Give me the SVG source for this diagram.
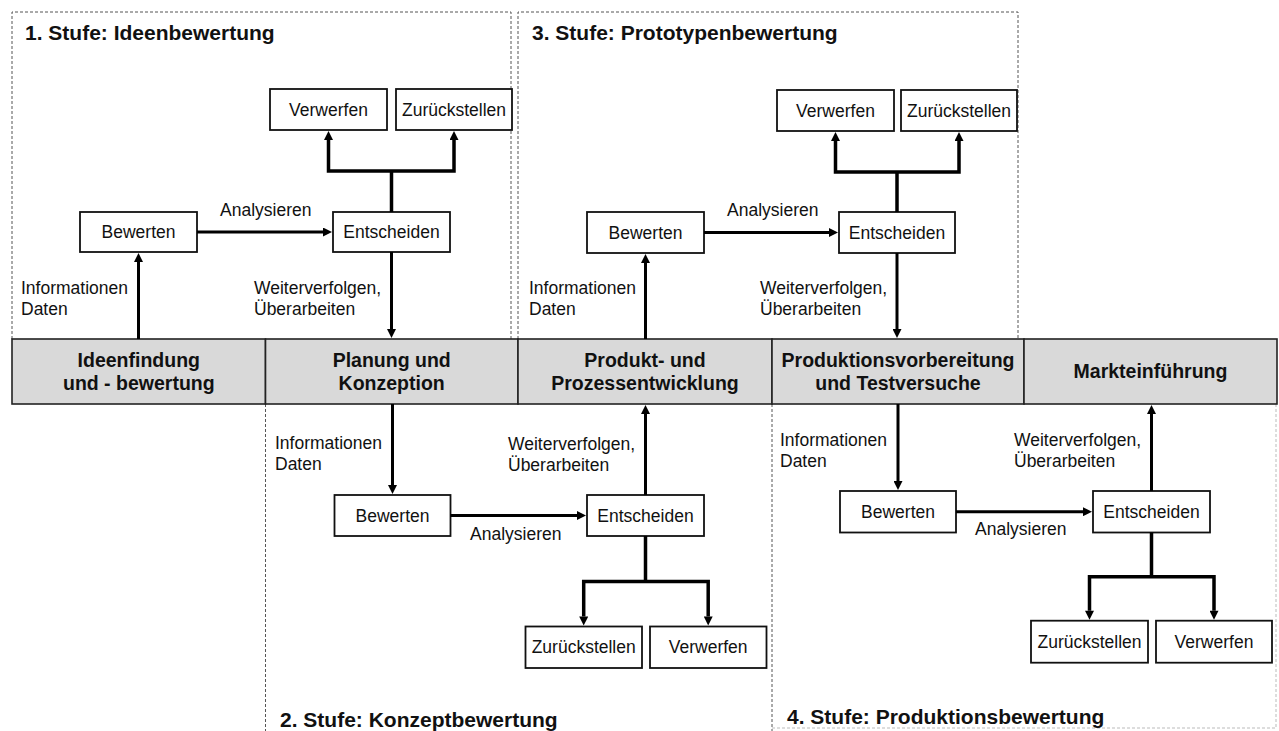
<svg xmlns="http://www.w3.org/2000/svg" width="1279" height="731" viewBox="0 0 1279 731">
  <style>
    text { font-family: "Liberation Sans", Arial, sans-serif; fill: #111; }
    .lbl { font-size: 17.5px; }
    .box-t { font-size: 17.5px; text-anchor: middle; dominant-baseline: central; }
    .title { font-size: 21px; font-weight: bold; }
    .phase { font-size: 19.5px; font-weight: bold; text-anchor: middle; }
    .box { fill: #fff; stroke: #111; stroke-width: 1.8; }
    .stage { fill: none; stroke: #555; stroke-width: 1; stroke-dasharray: 3 2; }
    .stage-faint { fill: none; stroke: #bbb; stroke-width: 1; stroke-dasharray: 3 2; }
    .cell { fill: #d9d9d9; stroke: #222; stroke-width: 1.6; }
    .flow { fill: none; stroke: #000; stroke-width: 3; }
    .fork { fill: none; stroke: #000; stroke-width: 3.5; stroke-linejoin: miter; }
  </style>
  <defs>
    <marker id="ah" viewBox="0 0 10 10" refX="0" refY="5" markerWidth="10" markerHeight="9" markerUnits="userSpaceOnUse" orient="auto-start-reverse">
      <path d="M0,0 L10,5 L0,10 z" fill="#000"/>
    </marker>
  </defs>

  <!-- stage frames -->
  <g id="stages">
    <path class="stage" d="M12,339 V12 H511 V339"/>
    <path class="stage" d="M518,339 V12 H1018 V339"/>
    <path class="stage" d="M265.5,404 V731"/>
    <path class="stage" d="M772,404 V731"/>
    <path class="stage-faint" d="M1276,404 V728 H772"/>
  </g>

  <!-- stage titles -->
  <g id="titles">
    <text class="title" x="25" y="40">1. Stufe: Ideenbewertung</text>
    <text class="title" x="532" y="40">3. Stufe: Prototypenbewertung</text>
    <text class="title" x="280" y="727">2. Stufe: Konzeptbewertung</text>
    <text class="title" x="787" y="724">4. Stufe: Produktionsbewertung</text>
  </g>

  <!-- process bar -->
  <g id="phase-ideen">
    <rect class="cell" x="12" y="339" width="253.5" height="65"/>
    <text class="phase" x="138.8" y="367">Ideenfindung</text>
    <text class="phase" x="138.8" y="390">und - bewertung</text>
  </g>
  <g id="phase-planung">
    <rect class="cell" x="265.5" y="339" width="252.5" height="65"/>
    <text class="phase" x="391.7" y="367">Planung und</text>
    <text class="phase" x="391.7" y="390">Konzeption</text>
  </g>
  <g id="phase-entwicklung">
    <rect class="cell" x="518" y="339" width="254" height="65"/>
    <text class="phase" x="645" y="367">Produkt- und</text>
    <text class="phase" x="645" y="390">Prozessentwicklung</text>
  </g>
  <g id="phase-produktion">
    <rect class="cell" x="772" y="339" width="252" height="65"/>
    <text class="phase" x="898" y="367">Produktionsvorbereitung</text>
    <text class="phase" x="898" y="390">und Testversuche</text>
  </g>
  <g id="phase-markt">
    <rect class="cell" x="1024" y="339" width="253" height="65"/>
    <text class="phase" x="1150.5" y="378">Markteinführung</text>
  </g>

  <!-- stage 1 nodes -->
  <g id="s1-verwerfen"><rect class="box" x="270" y="89" width="117" height="41"/><text class="box-t" x="328.5" y="109.5">Verwerfen</text></g>
  <g id="s1-zurueck"><rect class="box" x="396" y="89" width="116" height="41"/><text class="box-t" x="454" y="109.5">Zurückstellen</text></g>
  <g id="s1-bewerten"><rect class="box" x="80" y="212" width="117" height="40"/><text class="box-t" x="138.5" y="232">Bewerten</text></g>
  <g id="s1-entscheiden"><rect class="box" x="333" y="212" width="117" height="40"/><text class="box-t" x="391.5" y="232">Entscheiden</text></g>

  <!-- stage 3 nodes -->
  <g id="s3-verwerfen"><rect class="box" x="777" y="90" width="117" height="41"/><text class="box-t" x="835.5" y="110.5">Verwerfen</text></g>
  <g id="s3-zurueck"><rect class="box" x="901" y="90" width="116" height="41"/><text class="box-t" x="959" y="110.5">Zurückstellen</text></g>
  <g id="s3-bewerten"><rect class="box" x="587" y="212" width="117" height="41"/><text class="box-t" x="645.5" y="232.5">Bewerten</text></g>
  <g id="s3-entscheiden"><rect class="box" x="839" y="212" width="116" height="41"/><text class="box-t" x="897" y="232.5">Entscheiden</text></g>

  <!-- stage 2 nodes -->
  <g id="s2-bewerten"><rect class="box" x="334.5" y="495" width="116" height="41"/><text class="box-t" x="392.5" y="515.5">Bewerten</text></g>
  <g id="s2-entscheiden"><rect class="box" x="587" y="495" width="117" height="41"/><text class="box-t" x="645.5" y="515.5">Entscheiden</text></g>
  <g id="s2-zurueck"><rect class="box" x="525.5" y="626.5" width="116.5" height="41.5"/><text class="box-t" x="583.7" y="647.2">Zurückstellen</text></g>
  <g id="s2-verwerfen"><rect class="box" x="650" y="626.5" width="116.5" height="41.5"/><text class="box-t" x="708.2" y="647.2">Verwerfen</text></g>

  <!-- stage 4 nodes -->
  <g id="s4-bewerten"><rect class="box" x="840" y="491" width="116" height="41.5"/><text class="box-t" x="898" y="511.7">Bewerten</text></g>
  <g id="s4-entscheiden"><rect class="box" x="1093" y="491" width="117" height="41.5"/><text class="box-t" x="1151.5" y="511.7">Entscheiden</text></g>
  <g id="s4-zurueck"><rect class="box" x="1031" y="620.7" width="117" height="42"/><text class="box-t" x="1089.5" y="641.7">Zurückstellen</text></g>
  <g id="s4-verwerfen"><rect class="box" x="1156" y="620.7" width="116" height="42"/><text class="box-t" x="1214" y="641.7">Verwerfen</text></g>

  <!-- connectors -->
  <g id="connectors">
    <!-- stage 1 -->
    <path class="flow" d="M138.5,339 V262" marker-end="url(#ah)"/>
    <path class="flow" d="M197,232 H323" marker-end="url(#ah)"/>
    <path class="flow" d="M391.5,252 V329" marker-end="url(#ah)"/>
    <path class="fork" d="M391.5,212 V171"/>
    <path class="fork" d="M328.5,140 V171 H454 V140" marker-start="url(#ah)" marker-end="url(#ah)"/>
    <!-- stage 3 -->
    <path class="flow" d="M645.5,339 V263" marker-end="url(#ah)"/>
    <path class="flow" d="M704,232.5 H829" marker-end="url(#ah)"/>
    <path class="flow" d="M897,253 V329" marker-end="url(#ah)"/>
    <path class="fork" d="M897,212 V172"/>
    <path class="fork" d="M835.5,141 V172 H959 V141" marker-start="url(#ah)" marker-end="url(#ah)"/>
    <!-- stage 2 -->
    <path class="flow" d="M392.5,404 V485" marker-end="url(#ah)"/>
    <path class="flow" d="M450.5,515.5 H577" marker-end="url(#ah)"/>
    <path class="flow" d="M645.5,495 V414" marker-end="url(#ah)"/>
    <path class="fork" d="M645.5,536 V581.5"/>
    <path class="fork" d="M583.7,616.5 V581.5 H708.2 V616.5" marker-start="url(#ah)" marker-end="url(#ah)"/>
    <!-- stage 4 -->
    <path class="flow" d="M898,404 V481" marker-end="url(#ah)"/>
    <path class="flow" d="M956,511.7 H1083" marker-end="url(#ah)"/>
    <path class="flow" d="M1151.5,491 V414" marker-end="url(#ah)"/>
    <path class="fork" d="M1151.5,532.5 V576.7"/>
    <path class="fork" d="M1089.5,610.7 V576.7 H1214 V610.7" marker-start="url(#ah)" marker-end="url(#ah)"/>
  </g>

  <!-- connector labels -->
  <g id="labels">
    <text class="lbl" x="220" y="216">Analysieren</text>
    <text class="lbl" x="21" y="294">Informationen</text>
    <text class="lbl" x="21" y="315">Daten</text>
    <text class="lbl" x="254" y="294">Weiterverfolgen,</text>
    <text class="lbl" x="254" y="315">Überarbeiten</text>

    <text class="lbl" x="727" y="216">Analysieren</text>
    <text class="lbl" x="529" y="294">Informationen</text>
    <text class="lbl" x="529" y="315">Daten</text>
    <text class="lbl" x="760" y="294">Weiterverfolgen,</text>
    <text class="lbl" x="760" y="315">Überarbeiten</text>

    <text class="lbl" x="470" y="540">Analysieren</text>
    <text class="lbl" x="275" y="449">Informationen</text>
    <text class="lbl" x="275" y="470">Daten</text>
    <text class="lbl" x="508" y="450">Weiterverfolgen,</text>
    <text class="lbl" x="508" y="471">Überarbeiten</text>

    <text class="lbl" x="975" y="535">Analysieren</text>
    <text class="lbl" x="780" y="446">Informationen</text>
    <text class="lbl" x="780" y="467">Daten</text>
    <text class="lbl" x="1014" y="446">Weiterverfolgen,</text>
    <text class="lbl" x="1014" y="467">Überarbeiten</text>
  </g>
</svg>
